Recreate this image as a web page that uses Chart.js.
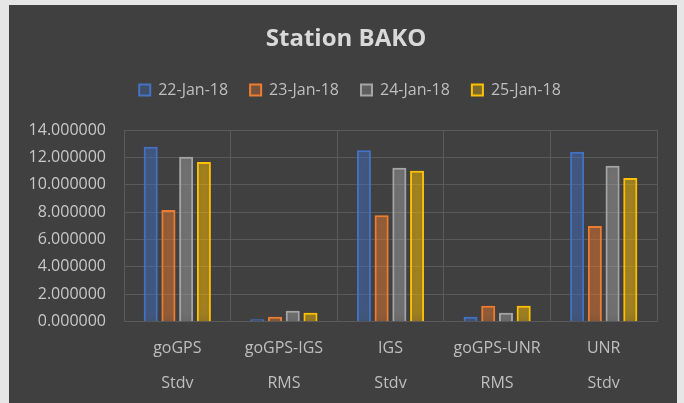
<!DOCTYPE html>
<html>
<head>
<meta charset="utf-8">
<script src="https://cdn.jsdelivr.net/npm/chart.js@4"></script>
<style>
  html, body { margin: 0; padding: 0; background: #e6e6e6; width: 684px; height: 403px; overflow: hidden; }
  #wrap { position: absolute; left: 9px; top: 5px; width: 668px; height: 398px; background: #404040; }
  canvas { display: block; }
</style>
</head>
<body>
<div id="wrap"><canvas id="c" width="668" height="398"></canvas></div>
<script>
const categories = [['goGPS', 'Stdv'], ['goGPS-IGS', 'RMS'], ['IGS', 'Stdv'], ['goGPS-UNR', 'RMS'], ['UNR', 'Stdv']];
const seriesNames = ['22-Jan-18', '23-Jan-18', '24-Jan-18', '25-Jan-18'];
const jan22 = [12.77, 0.17, 12.53, 0.36, 12.41];
const jan23 = [8.15, 0.36, 7.77, 1.17, 6.99];
const jan24 = [12.04, 0.80, 11.24, 0.66, 11.39];
const jan25 = [11.66, 0.66, 11.02, 1.17, 10.49];
const yTicks = [0, 2, 4, 6, 8, 10, 12, 14];

const lineColors = ['#4472C4', '#ED7D31', '#A5A5A5', '#FFC000'];
const fillColors = ['rgba(68,114,196,0.30)', 'rgba(237,125,49,0.30)', 'rgba(165,165,165,0.30)', 'rgba(255,192,0,0.32)'];
const glowColors = ['rgba(68,114,196,0.8)', 'rgba(237,125,49,0.8)', 'rgba(165,165,165,0.8)', 'rgba(255,192,0,0.8)'];
const seriesValues = [jan22, jan23, jan24, jan25];

const glow = {
  id: 'glow',
  beforeDatasetDraw(chart, args) {
    const ctx = chart.ctx;
    ctx.save();
    ctx.shadowColor = glowColors[args.index];
    ctx.shadowBlur = 12;
  },
  afterDatasetDraw(chart) { chart.ctx.restore(); }
};

// nudge the title and legend horizontally (as in the reference, they sit slightly right of centre)
const nudge = {
  id: 'nudge',
  afterLayout(chart) {
    const t = chart.titleBlock;
    if (t) { t.left += 7; t.right += 7; }
    const l = chart.legend;
    if (l) { l.left += 11; l.right += 11; }
  }
};

const FONT = "'Open Sans', 'DejaVu Sans', sans-serif";

new Chart(document.getElementById('c'), {
  type: 'bar',
  data: {
    labels: categories,
    datasets: seriesNames.map((n, i) => ({
      label: n,
      data: seriesValues[i],
      backgroundColor: fillColors[i],
      borderColor: lineColors[i],
      borderWidth: 2,
      categoryPercentage: 0.665,
      barPercentage: 0.79
    }))
  },
  plugins: [glow, nudge],
  options: {
    responsive: false,
    animation: false,
    layout: { padding: { left: 12, right: 20, top: 0, bottom: 0 } },
    plugins: {
      title: {
        display: true,
        text: 'Station BAKO',
        color: '#d9d9d9',
        font: { family: FONT, size: 24, weight: 'bold', lineHeight: 1.2 },
        padding: { top: 19.6, bottom: 6.6 }
      },
      subtitle: {
        display: true,
        text: ' ',
        weight: 500,
        font: { family: FONT, size: 22, lineHeight: 1 },
        padding: 0
      },
      legend: {
        display: true,
        labels: {
          color: '#bfbfbf',
          font: { family: FONT, size: 16 },
          boxWidth: 11,
          boxHeight: 11,
          padding: 22
        }
      },
      tooltip: { enabled: false }
    },
    scales: {
      x: {
        grid: { color: '#5a5a5a', lineWidth: 1, drawTicks: false, offset: true },
        border: { display: false },
        ticks: {
          color: '#bfbfbf',
          font: { family: FONT, size: 16, lineHeight: 2.2 },
          padding: 9,
          maxRotation: 0,
          autoSkip: false
        },
        afterFit(s) { s.height = 81.3; }
      },
      y: {
        min: 0,
        max: 14,
        afterBuildTicks(s) { s.ticks = yTicks.map(v => ({ value: v })); },
        grid: { color: '#5a5a5a', lineWidth: 1, drawTicks: false },
        border: { display: false },
        ticks: {
          color: '#c8c8c8',
          font: { family: FONT, size: 16 },
          padding: 18,
          callback: v => Number(v).toFixed(6)
        },
        afterFit(s) { s.width = 103; }
      }
    }
  }
});
</script>
</body>
</html>
